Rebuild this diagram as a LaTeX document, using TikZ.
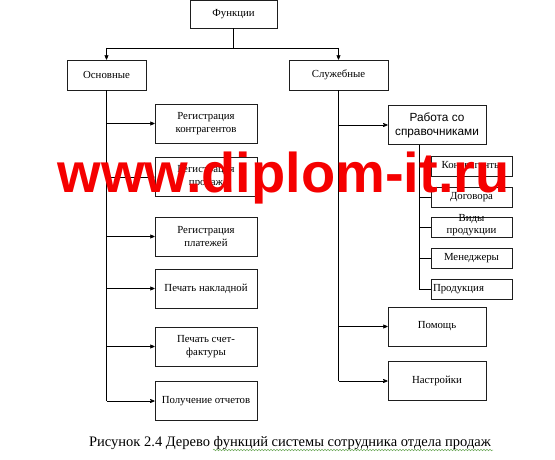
\documentclass[tikz,border=0pt]{standalone}
\usepackage{fontspec}
\setmainfont{Liberation Serif}
\newfontfamily\arialfont{Liberation Sans}
\usetikzlibrary{arrows,decorations.pathmorphing}
\definecolor{line_gray}{RGB}{30,30,30}
\definecolor{wm_red}{RGB}{245,0,0}
\definecolor{spell_green}{RGB}{110,170,90}

\begin{document}
\begin{tikzpicture}[->,>=stealth',x=1pt,y=-1pt,line width=0.7pt]
    \tikzstyle{box}=[draw=line_gray, rectangle, minimum width=102pt, minimum height=39pt, inner sep=1pt, align=center, text=black, font=\fontsize{10.8}{13}\selectfont]
    \tikzstyle{top}=[style=box, minimum width=87pt, minimum height=28pt]
    \tikzstyle{grp}=[style=box, minimum height=30pt]
    \tikzstyle{rbox}=[style=box, minimum width=98pt]
    \tikzstyle{sub}=[style=box, minimum width=81pt, minimum height=20pt]
    \tikzstyle{wm}=[text=wm_red, inner sep=0pt, font=\arialfont\bfseries\fontsize{56}{60}\selectfont]
    \useasboundingbox (0,0) rectangle (555,460);

    \node[top] (fn)   at (233.5,14)  {Функции};
    \node[grp,minimum width=79pt] (osn) at (106.5,75) {Основные};
    \node[grp,minimum width=99pt] (slu) at (338.5,75) {Служебные};

    % osnovnye
    \node[box] (rk)  at (206,123.5) {Регистрация\\контрагентов};
    \node[box] (rp)  at (206,177)   {Регистрация\\продаж};
    \node[box] (rpl) at (206,236.5) {Регистрация\\платежей};
    \node[box] (pn)  at (206,288.5) {Печать накладной};
    \node[box] (ps)  at (206,346.5) {Печать счет-\\фактуры};
    \node[box] (po)  at (206,401)   {Получение отчетов};

    % sluzhebnye
    \node[rbox,font=\arialfont\fontsize{11.8}{14}\selectfont] (rab) at (437,125) {Работа со\\справочниками};
    \node[sub] (kon) at (471.5,166)   {Контрагенты};
    \node[sub] (dog) at (471.5,197.5) {Договора};
    \node[sub] (vid) at (471.5,227.5) {\smash{\begin{tabular}{@{}c@{}}Виды\\[-1pt]продукции\end{tabular}}};
    \node[sub] (men) at (471.5,258)   {Менеджеры};
    \node[sub,align=left] (pro) at (471.5,289) {\makebox[77pt][l]{Продукция}};
    \node[rbox] (pom) at (437,326.5) {Помощь};
    \node[rbox] (nas) at (437,381)   {Настройки};

    \coordinate (jc) at (233.5,48);
    \coordinate (jl) at (106.5,48);
    \coordinate (jr) at (338.5,48);
    \coordinate (l1) at (106.5,123.5);
    \coordinate (l2) at (106.5,177);
    \coordinate (l3) at (106.5,236.5);
    \coordinate (l4) at (106.5,288.5);
    \coordinate (l5) at (106.5,346.5);
    \coordinate (l6) at (106.5,401);
    \coordinate (r1) at (338.5,125);
    \coordinate (r2) at (338.5,326.5);
    \coordinate (r3) at (338.5,381);
    \coordinate (s0) at (419,145);
    \coordinate (s1) at (419,166);
    \coordinate (s2) at (419,197.5);
    \coordinate (s3) at (419,227.5);
    \coordinate (s4) at (419,258);
    \coordinate (s5) at (419,289);

    \draw[-] (fn.south) -- (jc);
    \draw[-] (jl) -- (jr);
    \draw[-] (osn.south) -- (l6);
    \draw[-] (slu.south) -- (r3);
    \draw[-] (s0) -- (s5);
    \path
     (jl) edge (osn.north)
     (jr) edge (slu.north)
     (l1) edge (rk.west)
     (l2) edge (rp.west)
     (l3) edge (rpl.west)
     (l4) edge (pn.west)
     (l5) edge (ps.west)
     (l6) edge (po.west)
     (r1) edge (rab.west)
     (r2) edge (pom.west)
     (r3) edge (nas.west)
     (s1) edge[-] (kon.west)
     (s2) edge[-] (dog.west)
     (s3) edge[-] (vid.west)
     (s4) edge[-] (men.west)
     (s5) edge[-] (pro.west)
     ;

    \node[anchor=base, inner sep=0pt, font=\fontsize{14.5}{17}\selectfont] (cap) at (290,446)
      {Рисунок 2.4 Дерево функций системы сотрудника отдела продаж};
    \draw[-, spell_green, line width=0.5pt, decorate, decoration={snake, amplitude=0.8pt, segment length=3pt}] (213,450) -- (493,450);

    \node[wm, anchor=base] (www) at (283.5,192) {www.diplom-it.ru};
\end{tikzpicture}
\end{document}
